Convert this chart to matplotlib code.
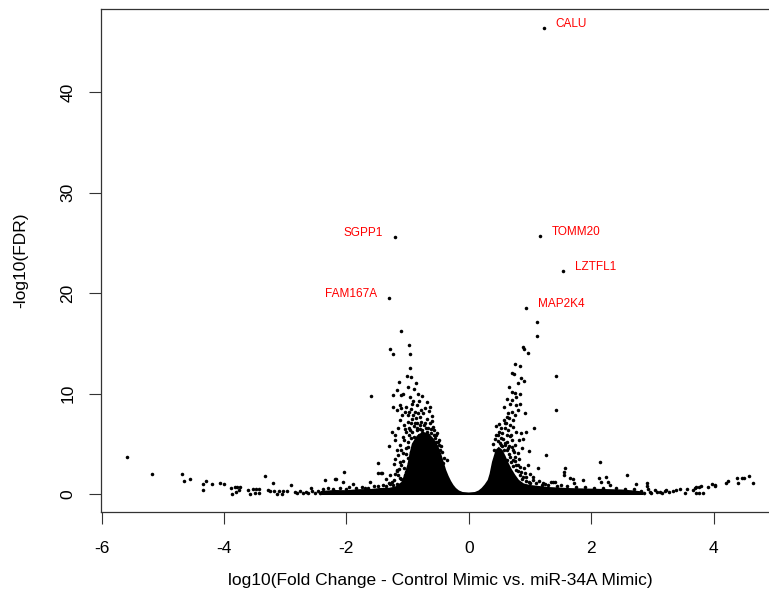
import matplotlib
matplotlib.use("Agg")
import matplotlib.pyplot as plt

plt.rcParams["font.family"] = ["Liberation Sans", "DejaVu Sans"]
plt.rcParams["axes.unicode_minus"] = False

# labelled genes
gene_names = ["CALU", "SGPP1", "TOMM20", "LZTFL1", "FAM167A", "MAP2K4"]
gene_x = [1.23, -1.21, 1.16, 1.54, -1.30, 0.94]
gene_y = [46.4, 25.6, 25.7, 22.2, 19.5, 18.5]

# outline of the saturated (overplotted) core around log10FC = 0
core_x = [-2.42, -2.42, -2.2, -2.0, -1.8, -1.6, -1.45, -1.3, -1.2, -1.1, -1.05, -1.0,
          -0.97, -0.93, -0.85, -0.75, -0.65, -0.57, -0.5, -0.45, -0.41, -0.37, -0.33,
          -0.29, -0.25, -0.21, -0.16, -0.1, 0.0, 0.1, 0.16, 0.21, 0.26, 0.31, 0.34,
          0.36, 0.38, 0.41, 0.44, 0.49, 0.55, 0.6, 0.65, 0.7, 0.76, 0.82, 0.9, 1.0,
          1.3, 1.6, 1.9, 2.2, 2.5, 2.7, 2.85, 2.85]
core_y = [-0.1, 0.3, 0.4, 0.38, 0.48, 0.5, 0.6, 0.62, 0.75, 1.2, 2.0, 3.0,
          4.0, 5.0, 5.8, 6.2, 6.0, 5.5, 4.8, 4.0, 3.2, 2.4, 1.8,
          1.3, 0.9, 0.6, 0.35, 0.2, 0.15, 0.2, 0.35, 0.6, 0.95, 1.4, 2.0,
          2.6, 3.2, 3.8, 4.4, 4.7, 4.4, 3.8, 3.1, 2.5, 1.9, 1.4, 1.05, 0.9,
          0.7, 0.6, 0.55, 0.5, 0.45, 0.35, 0.25, -0.1]

left_tail = [(-5.59, 3.65), (-5.17, 1.99), (-4.69, 1.99), (-4.65, 1.29), (-4.55, 1.49),
             (-4.35, 1.03), (-4.35, 0.37), (-4.30, 1.33), (-4.19, 1.03), (-4.07, 1.06),
             (-4.00, 1.00), (-3.89, 0.60), (-3.87, 0.00), (-3.82, 0.73), (-3.78, 0.73),
             (-3.74, 0.73), (-3.80, 0.23), (-3.75, 0.40), (-3.61, 0.40), (-3.57, 0.00),
             (-3.53, 0.50), (-3.48, 0.50), (-3.42, 0.50), (-3.50, 0.07), (-3.42, 0.07),
             (-3.33, 1.79), (-3.28, 0.40), (-3.20, 1.06), (-3.25, 0.33), (-3.18, 0.33),
             (-3.10, 0.33), (-3.03, 0.33), (-2.97, 0.33), (-3.14, 0.00), (-3.06, 0.00),
             (-2.91, 0.86), (-2.84, 0.20), (-2.80, 0.10), (-2.76, 0.25), (-2.71, 0.15),
             (-2.66, 0.22), (-2.62, 0.08), (-2.57, 0.63), (-2.56, 0.25), (-2.51, 0.15),
             (-2.47, 0.30), (-2.43, 0.12), (-2.35, 1.36), (-2.18, 1.46), (-2.04, 2.22),
             (-2.05, 1.22), (-2.17, 1.46), (-1.89, 1.00), (-1.62, 1.22), (-1.24, 0.90),
             (-2.38, 0.45), (-2.30, 0.55), (-2.22, 0.50), (-2.10, 0.60), (-1.95, 0.65),
             (-1.85, 0.60), (-1.75, 0.70), (-1.65, 0.62), (-1.55, 0.80), (-1.48, 0.75),
             (-1.40, 0.90), (-1.35, 0.78), (-1.28, 0.95), (-2.00, 0.52), (-1.70, 0.55)]

left_arm = [(-1.10, 16.25), (-1.28, 14.4), (-1.24, 13.9), (-0.98, 14.8), (-0.96, 13.9),
            (-0.96, 12.5), (-1.01, 11.7), (-0.94, 11.6), (-1.14, 11.1), (-1.00, 10.6),
            (-0.87, 11.0), (-1.24, 9.85), (-1.10, 9.85), (-1.07, 10.0), (-0.96, 9.68),
            (-0.83, 10.0), (-0.77, 9.75), (-0.91, 9.28), (-1.24, 8.69), (-1.18, 8.36),
            (-1.13, 8.86), (-1.10, 8.53), (-1.05, 8.19), (-1.09, 7.86), (-0.91, 7.86),
            (-0.83, 8.03), (-0.75, 8.09), (-0.80, 7.69), (-0.65, 8.29), (-0.99, 7.19),
            (-0.94, 7.03), (-0.88, 7.03), (-0.80, 6.87), (-0.72, 7.03), (-0.64, 7.09),
            (-0.58, 6.70), (-1.03, 6.20), (-0.96, 6.37), (-0.85, 6.37), (-0.77, 6.04),
            (-0.69, 6.20), (-0.56, 6.37), (-0.53, 5.87), (-1.21, 5.87), (-1.21, 5.37),
            (-1.07, 5.70), (-0.94, 5.54), (-0.88, 5.20), (-0.80, 5.54), (-0.72, 5.20),
            (-0.64, 5.37), (-0.58, 5.04), (-0.50, 5.20), (-1.10, 4.38), (-0.99, 4.71),
            (-0.91, 4.21), (-0.83, 4.55), (-0.75, 4.21), (-0.66, 4.55), (-0.56, 4.21),
            (-0.47, 4.38), (-0.99, 3.55), (-0.91, 3.21), (-0.83, 3.71), (-0.75, 3.38),
            (-0.66, 3.55), (-0.58, 3.21), (-0.50, 3.38), (-0.42, 3.05), (-0.36, 3.38),
            (-1.18, 2.39), (-1.10, 2.89), (-1.02, 2.22), (-0.94, 2.72), (-1.13, 1.56),
            (-1.02, 1.56), (-0.91, 1.89), (-0.85, 1.39), (-1.43, 2.06), (-1.60, 9.75),
            (-1.48, 3.11), (-1.48, 2.12), (-1.42, 2.12), (-1.18, 2.32), (-1.01, 2.32),
            (-0.96, 1.72), (-1.10, 1.46), (-1.03, 1.22),
            (-1.15, 6.6), (-1.12, 7.4), (-1.06, 6.9), (-1.00, 7.9), (-0.97, 6.6),
            (-0.93, 7.5), (-0.90, 6.8), (-0.86, 7.6), (-0.84, 6.6), (-0.82, 5.9),
            (-0.78, 7.2), (-0.76, 6.4), (-0.74, 5.8), (-0.70, 6.6), (-0.68, 7.5),
            (-0.66, 5.9), (-0.62, 6.1), (-0.60, 7.3), (-0.55, 5.6), (-0.52, 6.1),
            (-0.49, 5.4), (-0.46, 4.8), (-1.28, 1.9), (-1.25, 1.2), (-1.20, 3.5),
            (-1.16, 1.9), (-1.15, 3.9), (-1.08, 3.3), (-1.06, 2.6), (-1.05, 1.9),
            (-1.03, 4.0), (-0.98, 3.1), (-0.97, 2.0), (-0.95, 4.2), (-0.93, 3.6),
            (-0.90, 4.9), (-0.88, 4.4), (-0.86, 5.2), (-1.00, 5.2), (-1.12, 4.9),
            (-1.17, 4.4), (-1.22, 3.0), (-1.30, 1.1), (-1.36, 1.5), (-1.25, 6.2),
            (-1.30, 4.8), (-0.72, 8.6), (-0.85, 8.9), (-0.95, 8.5), (-0.68, 9.2),
            (-0.90, 10.4), (-1.18, 10.3),
            (-1.04, 6.5), (-0.98, 5.9), (-0.92, 6.2), (-0.89, 5.7), (-0.84, 7.1),
            (-0.79, 6.5), (-0.73, 6.9), (-0.67, 6.6), (-0.61, 6.5), (-0.57, 5.9),
            (-0.53, 5.2), (-0.48, 4.9), (-0.44, 4.2), (-0.40, 3.6), (-1.02, 4.6),
            (-1.06, 5.4), (-1.08, 4.1), (-1.12, 3.2), (-1.14, 2.5), (-1.20, 2.0),
            (-1.22, 1.4), (-1.17, 1.0), (-0.97, 8.2), (-0.88, 8.2), (-0.78, 8.4),
            (-1.02, 8.7), (-0.93, 9.0), (-0.82, 9.3), (-0.60, 7.8), (-0.63, 8.7)]

right_arm = [(1.11, 17.15), (1.12, 15.7), (0.89, 14.65), (0.90, 14.4), (0.97, 14.06),
             (0.75, 12.9), (0.83, 12.7), (0.71, 12.0), (0.74, 11.9), (0.85, 11.5),
             (1.43, 11.7), (0.90, 11.2), (0.70, 10.2), (0.75, 10.1), (0.83, 10.0),
             (0.78, 9.7), (0.71, 9.35), (0.78, 8.86), (0.83, 8.96), (0.92, 8.03),
             (0.57, 8.63), (0.64, 8.03), (0.62, 7.69), (0.70, 8.19), (0.72, 7.36),
             (0.59, 7.03), (0.67, 6.87), (0.53, 6.54), (0.64, 6.37), (0.72, 6.70),
             (0.78, 6.20), (0.86, 6.10), (0.94, 6.20), (1.06, 6.54), (0.45, 5.87),
             (0.53, 5.54), (0.62, 5.87), (0.51, 5.04), (0.59, 5.04), (0.70, 5.37),
             (0.75, 4.88), (0.42, 4.38), (0.53, 4.21), (0.64, 4.55), (0.72, 4.38),
             (0.51, 3.55), (0.62, 3.38), (0.75, 3.71), (1.26, 3.88), (0.81, 2.89),
             (0.97, 2.89), (1.13, 2.56), (0.83, 1.89), (0.94, 1.72), (1.05, 1.72),
             (1.42, 8.4), (1.35, 1.22), (1.41, 1.22),
             (0.40, 5.0), (0.47, 5.3), (0.50, 6.2), (0.55, 4.8), (0.58, 4.4),
             (0.60, 6.6), (0.63, 5.2), (0.66, 4.0), (0.67, 5.8), (0.69, 3.2),
             (0.70, 4.7), (0.73, 2.8), (0.76, 3.3), (0.78, 2.4), (0.80, 4.1),
             (0.82, 3.5), (0.85, 2.2), (0.88, 1.7), (0.90, 2.6), (0.93, 1.3),
             (0.98, 1.2), (1.00, 2.0), (1.05, 1.4), (1.10, 1.1), (0.87, 4.6),
             (0.57, 7.4), (0.50, 7.0), (0.68, 9.0), (0.62, 9.5), (0.66, 10.6),
             (0.80, 11.0), (0.45, 6.8),
             (0.43, 5.5), (0.48, 5.9), (0.52, 4.9), (0.56, 5.5), (0.60, 4.9),
             (0.63, 4.4), (0.66, 4.8), (0.68, 3.7), (0.72, 3.4), (0.74, 4.2),
             (0.77, 2.9), (0.80, 2.3), (0.84, 2.7), (0.87, 1.5), (0.92, 2.1),
             (0.55, 6.1), (0.61, 7.1), (0.66, 7.6), (0.75, 7.9), (0.80, 8.4),
             (0.69, 5.9), (0.82, 5.4), (0.89, 5.5), (0.98, 4.3)]

right_tail = [(1.57, 2.56), (1.55, 2.22), (1.55, 1.89), (1.66, 1.56), (1.70, 1.46),
              (1.87, 1.39), (1.72, 1.06), (2.13, 1.56), (2.16, 1.22), (2.14, 3.15),
              (2.25, 1.72), (2.28, 1.22), (2.30, 0.90), (2.59, 1.89), (2.74, 0.96),
              (2.91, 1.06), (2.91, 0.83), (1.38, 1.22), (1.21, 1.06), (1.51, 0.90),
              (2.82, 0.30), (2.87, 0.15), (2.93, 0.45), (2.98, 0.10), (3.04, 0.35),
              (3.08, 0.20), (3.15, 0.12), (3.20, 0.30), (3.28, 0.18), (2.96, 0.23),
              (3.12, 0.23), (3.23, 0.40), (3.34, 0.33), (3.39, 0.40), (3.45, 0.47),
              (3.53, 0.07), (3.56, 0.47), (3.66, 0.40), (3.69, 0.57), (3.72, 0.73),
              (3.77, 0.73), (3.80, 0.80), (3.83, 0.07), (3.77, 0.07), (3.72, 0.07),
              (3.91, 0.73), (3.97, 1.00), (4.02, 0.90), (4.03, 0.80), (4.21, 1.06),
              (4.24, 1.29), (4.38, 1.56), (4.40, 1.12), (4.46, 1.56), (4.49, 1.59),
              (4.58, 1.79), (4.64, 1.12),
              (1.20, 0.90), (1.30, 0.85), (1.45, 0.80), (1.60, 0.78), (1.75, 0.70),
              (1.90, 0.68), (2.05, 0.60), (2.20, 0.62), (2.40, 0.55), (2.55, 0.50),
              (2.70, 0.45), (1.00, 1.10), (1.15, 1.30), (1.25, 0.95)]

other_x = [p[0] for p in left_tail + left_arm + right_arm + right_tail]
other_y = [p[1] for p in left_tail + left_arm + right_arm + right_tail]

fig = plt.figure(figsize=(7.69, 5.95), dpi=100)
ax = fig.add_axes([101 / 769, 83 / 595, 678 / 769, 503 / 595])

ax.fill(core_x, core_y, color="black", lw=0)
ax.scatter(other_x, other_y, s=6.5, c="black", lw=0)
ax.scatter(gene_x, gene_y, s=6.5, c="black", lw=0)

for name, gx, gy in zip(gene_names, gene_x, gene_y):
    dx = 8.5 if gx > 0 else -8.5
    ax.annotate(name, (gx, gy), xytext=(dx, 3), textcoords="offset points",
                ha="left" if gx > 0 else "right", va="center",
                color="red", fontsize=8.5)

ax.set_xlim(-6.01, 5.07)
ax.set_ylim(-1.79, 48.26)
ax.set_xticks([-6, -4, -2, 0, 2, 4])
ax.set_yticks([0, 10, 20, 30, 40])
ax.tick_params(direction="out", length=8.6, width=0.8, labelsize=12.5, color="#333333")
ax.tick_params(axis="x", pad=12)
ax.tick_params(axis="y", pad=10, labelrotation=90)
for t in ax.get_yticklabels():
    t.set_va("center")
for sp in ax.spines.values():
    sp.set_linewidth(0.9)
    sp.set_color("#333333")

fig.text(440 / 769, 1 - 580 / 595, "log10(Fold Change - Control Mimic vs. miR-34A Mimic)",
         ha="center", va="center", fontsize=12.5)
fig.text(21 / 769, 1 - 260 / 595, "-log10(FDR)", rotation=90,
         ha="center", va="center", fontsize=12.5)

fig.savefig("out.png", dpi=100)
